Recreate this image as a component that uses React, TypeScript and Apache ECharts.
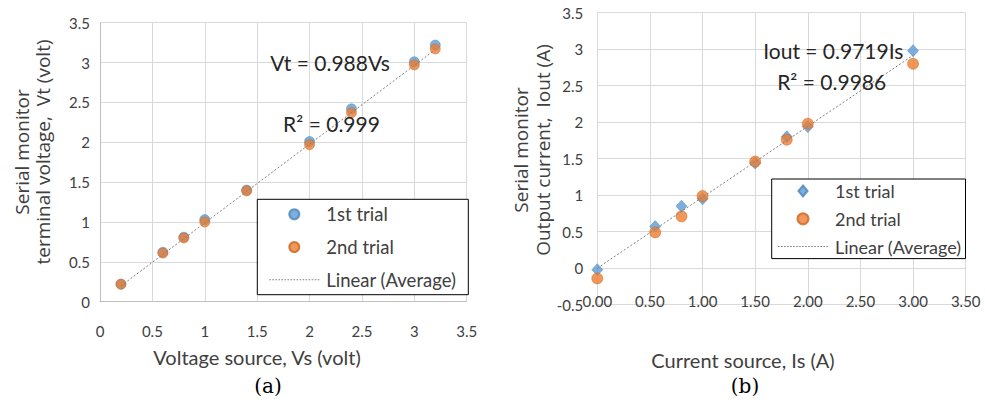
import React, { useEffect, useRef } from "react";
import * as echarts from "echarts";

// ---- data: chart (a) ----
const vsX = [0.2, 0.6, 0.8, 1.0, 1.4, 2.0, 2.4, 3.0, 3.2];
const vtTrial1 = [0.22, 0.62, 0.81, 1.03, 1.4, 2.01, 2.42, 3.01, 3.22];
const vtTrial2 = [0.22, 0.61, 0.8, 1.0, 1.39, 1.97, 2.37, 2.97, 3.17];
const trendAX = [0.2, 3.2];
const trendAY = [0.198, 3.162];

// ---- data: chart (b) ----
const isX = [0, 0.55, 0.8, 1.0, 1.5, 1.8, 2.0, 3.0];
const ioTrial1 = [-0.02, 0.57, 0.85, 0.95, 1.44, 1.8, 1.94, 2.98];
const ioTrial2 = [-0.14, 0.49, 0.71, 0.99, 1.46, 1.76, 1.98, 2.8];
const trendBX = [0, 3.0];
const trendBY = [0, 2.916];

const legendNames = ["1st trial", "2nd trial", "Linear (Average)"];

const FONT = "Lato, sans-serif";
const TITLE_FONT = "'Open Sans', sans-serif";
const BLUE = "#5B9BD5";
const ORANGE = "#ED7D31";
const GRID = "#d9d9d9";
const TXT = "#404040";

const pair = (xs: number[], ys: number[]) => xs.map((x, i) => [x, ys[i]]);

// dotted-line legend icon (style only)
let dashPath = "path://";
for (let i = 0; i < 17; i++) dashPath += `M${i * 3},0h1.6v1h-1.6z`;
const diamondPath = "path://M5,0L10,6L5,12L0,6Z";

export default function App() {
  const ref = useRef<HTMLDivElement>(null);
  useEffect(() => {
    const chart = echarts.init(ref.current!, undefined, { renderer: "svg" });
    const axisLabel = { fontFamily: FONT, fontSize: 15, color: TXT };
    const legendText = { fontFamily: FONT, fontSize: 18.5, color: TXT, padding: [0, 0, 0, 2] };
    const legendTextB = { ...legendText, fontSize: 18 };
    const txt = (x: number, y: number, text: string, font: string, fill: string, rot = 0) => ({
      type: "text", x, y, z: 10, rotation: rot,
      style: { text, align: "center", verticalAlign: "middle", font, fill },
    });
    const option: any = {
      animation: false,
      backgroundColor: "#fff",
      grid: [
        { left: 100, top: 22.7, width: 366.7, height: 279 },
        { left: 597.3, top: 12.7, width: 368.4, height: 292 },
      ],
      xAxis: [
        {
          gridIndex: 0, type: "value", min: 0, max: 3.5, interval: 0.5,
          axisLine: { show: true, onZero: false, lineStyle: { color: "#bfbfbf" } },
          axisTick: { show: false },
          splitLine: { show: true, lineStyle: { color: GRID } },
          axisLabel: { ...axisLabel, margin: 22, showMinLabel: true, showMaxLabel: true },
        },
        {
          gridIndex: 1, type: "value", min: 0, max: 3.5, interval: 0.5,
          axisLine: { show: false, onZero: false },
          axisTick: { show: false },
          splitLine: { show: true, lineStyle: { color: GRID } },
          axisLabel: { ...axisLabel, margin: -11, showMinLabel: true, showMaxLabel: true,
            formatter: (v: number) => v.toFixed(2) },
        },
      ],
      yAxis: [
        {
          gridIndex: 0, type: "value", min: 0, max: 3.5, interval: 0.5,
          axisLine: { show: true, onZero: false, lineStyle: { color: "#bfbfbf" } },
          axisTick: { show: false },
          splitLine: { show: true, lineStyle: { color: GRID } },
          axisLabel: { ...axisLabel, margin: 10 },
        },
        {
          gridIndex: 1, type: "value", min: -0.5, max: 3.5, interval: 0.5,
          axisLine: { show: false, onZero: false },
          axisTick: { show: false },
          splitLine: { show: true, lineStyle: { color: GRID } },
          axisLabel: { ...axisLabel, margin: 14 },
        },
      ],
      legend: [
        {
          orient: "vertical", left: 257.3, top: 199.3,
          itemWidth: 50, itemHeight: 10, itemGap: 13.7,
          padding: [5.5, 12, 5.5, 12],
          borderColor: "#000", borderWidth: 1, backgroundColor: "#fff",
          textStyle: legendText,
          data: [
            { name: legendNames[0], icon: "circle", itemStyle: { color: BLUE } },
            { name: legendNames[1], icon: "circle", itemStyle: { color: ORANGE } },
            { name: legendNames[2], icon: dashPath, itemStyle: { color: "#808080" } },
          ],
        },
        {
          orient: "vertical", left: 771.7, top: 179,
          itemWidth: 50, itemHeight: 11, itemGap: 9.8,
          padding: [3, 4, 3, 6.3],
          borderColor: "#000", borderWidth: 1, backgroundColor: "#fff",
          textStyle: legendTextB,
          data: [
            { name: legendNames[0], icon: diamondPath, itemStyle: { color: BLUE } },
            { name: legendNames[1], icon: "circle", itemStyle: { color: ORANGE } },
            { name: legendNames[2], icon: dashPath, itemStyle: { color: "#808080" } },
          ],
        },
      ],
      series: [
        {
          name: legendNames[0], type: "scatter", xAxisIndex: 0, yAxisIndex: 0,
          symbol: "circle", symbolSize: 10, z: 2,
          itemStyle: { color: BLUE, borderColor: "#4a84b8", borderWidth: 0.6 },
          data: pair(vsX, vtTrial1),
        },
        {
          name: legendNames[1], type: "scatter", xAxisIndex: 0, yAxisIndex: 0,
          symbol: "circle", symbolSize: 10, z: 3,
          itemStyle: { color: ORANGE, borderColor: "#c9651f", borderWidth: 0.6 },
          data: pair(vsX, vtTrial2),
        },
        {
          name: legendNames[2], type: "line", xAxisIndex: 0, yAxisIndex: 0,
          symbol: "none", z: 4,
          lineStyle: { color: "#7f7f7f", width: 1, type: [2, 2] },
          itemStyle: { color: "#808080" },
          data: pair(trendAX, trendAY),
        },
        {
          name: legendNames[0], type: "scatter", xAxisIndex: 1, yAxisIndex: 1,
          symbol: "diamond", symbolSize: [11, 12], z: 2,
          itemStyle: { color: BLUE, borderColor: "#4a84b8", borderWidth: 0.6 },
          data: pair(isX, ioTrial1),
        },
        {
          name: legendNames[1], type: "scatter", xAxisIndex: 1, yAxisIndex: 1,
          symbol: "circle", symbolSize: 11, z: 3,
          itemStyle: { color: ORANGE, borderColor: "#c9651f", borderWidth: 0.6 },
          data: pair(isX, ioTrial2),
        },
        {
          name: legendNames[2], type: "line", xAxisIndex: 1, yAxisIndex: 1,
          symbol: "none", z: 4,
          lineStyle: { color: "#7f7f7f", width: 1, type: [2, 2] },
          itemStyle: { color: "#808080" },
          data: pair(trendBX, trendBY),
        },
      ],
      graphic: [
        // annotations (a)
        txt(330, 62.3, "Vt = 0.988Vs", `21px ${FONT}`, "#262626"),
        txt(331.5, 123.3, "R² = 0.999", `21px ${FONT}`, "#262626"),
        // annotations (b)
        txt(833.3, 50, "Iout = 0.9719Is", `21px ${FONT}`, "#262626"),
        txt(831.7, 81.7, "R² = 0.9986", `21px ${FONT}`, "#262626"),
        // y titles (a)
        txt(22, 152, "Serial monitor", `19px ${TITLE_FONT}`, TXT, Math.PI / 2),
        txt(43, 152, "terminal voltage,  Vt (volt)", `19px ${TITLE_FONT}`, TXT, Math.PI / 2),
        // y titles (b)
        txt(521, 150, "Serial monitor", `19px ${TITLE_FONT}`, TXT, Math.PI / 2),
        txt(543, 150, "Output current,  Iout (A)", `19px ${TITLE_FONT}`, TXT, Math.PI / 2),
        // x titles
        txt(257, 357, "Voltage source, Vs (volt)", `20px ${FONT}`, TXT),
        txt(743, 360, "Current source, Is (A)", `20px ${FONT}`, TXT),
        // captions
        txt(268, 386, "(a)", `20px 'DejaVu Serif', serif`, "#000"),
        txt(745, 386, "(b)", `20px 'DejaVu Serif', serif`, "#000"),
      ],
    };
    chart.setOption(option);
    return () => chart.dispose();
  }, []);
  return (
    <div
      ref={ref}
      style={{ position: "absolute", left: 0, top: 0, width: 985, height: 404 }}
    />
  );
}
